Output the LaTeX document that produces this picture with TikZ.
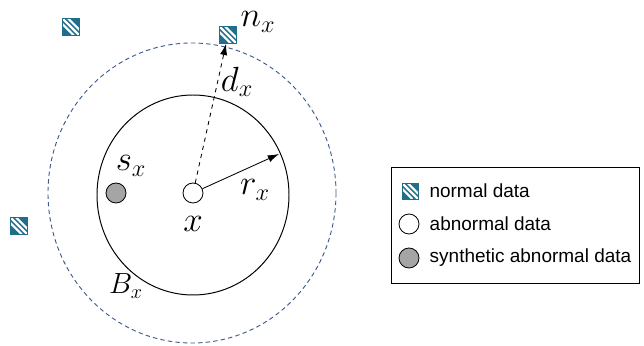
\documentclass[tikz,border=0pt]{standalone}
\usepackage{fontspec}
\newfontfamily\legendfont{Liberation Sans}
\usetikzlibrary{positioning,arrows.meta}

\definecolor{normblue}{RGB}{31,110,140}
\definecolor{ringblue}{RGB}{60,90,140}
\definecolor{synthgray}{RGB}{165,165,165}

\begin{document}
\begin{tikzpicture}[
    x=0.025cm, y=-0.025cm,
    normal/.style={rectangle, draw=normblue, fill=normblue, line width=0.6pt, minimum size=0.42cm, inner sep=0pt,
      path picture={\foreach \o in {-0.14,0,0.14}
        \draw[white, line width=1.6pt] ([xshift=\o cm]path picture bounding box.north west) -- ([xshift=\o cm]path picture bounding box.south east);}},
    abnormal/.style={circle, draw, fill=white, minimum size=0.5cm, inner sep=0pt, line width=0.6pt},
    synth/.style={abnormal, fill=synthgray},
    lbl/.style={font=\fontsize{27}{31}\selectfont, inner sep=0pt},
    legtext/.style={font=\legendfont\fontsize{13.5}{16}\selectfont, inner sep=0pt},
    arrow/.style={-{Latex[length=0.28cm, width=0.18cm]}, line width=0.6pt}
]
    \useasboundingbox (0,0) rectangle (644,346);

    % Neighbourhood and ball
    \draw[ringblue, line width=0.65pt, dash pattern=on 0.11cm off 0.08cm] (192,193) ellipse [x radius=144, y radius=150];
    \draw[line width=0.7pt] (193,195) ellipse [x radius=96, y radius=100];

    % Data points
    \node[abnormal] (x) at (193,193) {};
    \node[synth] (sx) at (116,193) {};
    \node[normal] (nx) at (228,35) {};
    \node[normal] (n1) at (71,27) {};
    \node[normal] (n2) at (19,226) {};
    \coordinate (rtip) at (279,154);

    % Arrows
    \draw[arrow, dashed] (x) -- (nx);
    \draw[arrow] (x) -- (rtip);

    % Labels
    \node[lbl] at (258,22) {$n_x$};
    \node[lbl] at (237,82) {$d_x$};
    \node[lbl] at (131,166) {$s_x$};
    \node[lbl] at (193,224) {$x$};
    \node[lbl] at (255,190) {$r_x$};
    \node[lbl, font=\fontsize{20.5}{24}\selectfont] at (126,286) {$B_x$};

    % Legend
    \node[draw, line width=0.6pt, minimum width=6.2cm, minimum height=2.9cm] (legend) at (515,225) {};
    \node[normal, minimum size=0.4cm] (lnorm) at (410,191) {};
    \node[abnormal] (labn) at (409,224) {};
    \node[synth] (lsyn) at (409,258) {};
    \node[legtext, right=0.27cm of lnorm] {normal data};
    \node[legtext, right=0.25cm of labn] {abnormal data};
    \node[legtext, right=0.25cm of lsyn] {synthetic abnormal data};
\end{tikzpicture}
\end{document}
